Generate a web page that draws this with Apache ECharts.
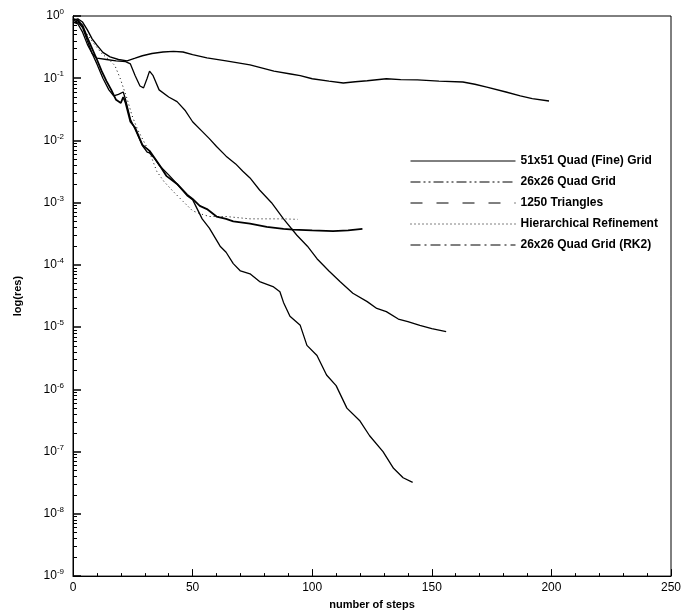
<!DOCTYPE html>
<html>
<head>
<meta charset="utf-8">
<script src="https://cdn.jsdelivr.net/npm/echarts@6/dist/echarts.min.js"></script>
<style>
  html, body { margin: 0; padding: 0; background: #fff; }
  #main { width: 698px; height: 615px; }
</style>
</head>
<body>
<div id="main"></div>
<script>
// series names (legend order)
var names = ['51x51 Quad (Fine) Grid', '26x26 Quad Grid', '1250 Triangles', 'Hierarchical Refinement', '26x26 Quad Grid (RK2)'];

// 51x51 fine grid - stalls around 0.05
var stepsFine = [0, 2, 4, 6, 8, 10, 12.5, 15.5, 19, 22.6, 26, 29, 33, 37.6, 42, 46, 50, 56, 64, 74, 84, 91, 95, 100, 107, 113, 118, 123, 131, 137, 144, 153, 163, 168, 173, 181, 187, 192, 199];
var resFine = [0.85, 0.9, 0.8, 0.6, 0.43, 0.34, 0.26, 0.22, 0.2, 0.19, 0.21, 0.23, 0.25, 0.264, 0.27, 0.264, 0.24, 0.212, 0.19, 0.164, 0.13, 0.117, 0.11, 0.098, 0.09, 0.084, 0.088, 0.091, 0.098, 0.095, 0.094, 0.09, 0.087, 0.08, 0.072, 0.06, 0.052, 0.047, 0.043];

// 26x26 quad grid - fastest, down to ~3e-8
var stepsQuad = [0, 2, 4, 6, 8, 10, 12.5, 15, 17, 19, 21, 22, 24, 26, 29, 31, 32, 34, 36, 40, 43.5, 47.7, 50, 54, 57, 61.5, 64, 67, 70, 74, 78, 83.6, 86.5, 88, 90.7, 95, 97.8, 102, 106, 110, 114.5, 120, 124, 129.6, 134, 138, 142];
var resQuad = [0.8, 0.75, 0.55, 0.35, 0.25, 0.17, 0.1, 0.065, 0.052, 0.055, 0.06, 0.045, 0.022, 0.015, 0.0083, 0.0065, 0.0063, 0.0052, 0.004, 0.0028, 0.002, 0.0013, 0.00112, 0.00055, 0.00039, 0.0002, 0.00016, 0.000105, 0.00008, 0.000072, 0.000054, 0.000045, 0.000037, 0.000025, 0.000015, 0.0000107, 0.0000051, 0.0000035, 0.0000017, 0.00000115, 0.0000005, 0.00000031, 0.00000018, 0.0000001, 0.000000054, 0.000000038, 0.000000032];

// 1250 triangles - ends near 8e-6
var stepsTri = [0, 2, 4, 6, 8, 10, 14, 18, 22, 24, 26, 28, 29.5, 31, 32, 33.5, 36, 40, 43.5, 47, 50, 54, 57, 60, 64, 68, 71, 74, 78, 83, 88, 93.6, 98, 102, 107, 111.6, 117, 123, 127, 131, 136, 140, 145, 150, 156];
var resTri = [0.85, 0.8, 0.65, 0.4, 0.25, 0.21, 0.2, 0.19, 0.185, 0.17, 0.11, 0.075, 0.07, 0.1, 0.13, 0.11, 0.065, 0.05, 0.042, 0.03, 0.02, 0.014, 0.0107, 0.008, 0.0056, 0.0042, 0.0032, 0.0025, 0.0016, 0.001, 0.00055, 0.0003, 0.0002, 0.000126, 0.00008, 0.000054, 0.000035, 0.0000257, 0.00002, 0.0000178, 0.0000135, 0.0000123, 0.0000107, 0.0000095, 0.0000085];

// hierarchical refinement - flattens near 5e-4
var stepsHier = [0, 3, 6, 9, 12, 15, 17.5, 19.7, 22.6, 24.7, 27, 30, 32, 35, 38, 42, 46, 50, 54, 57, 64, 74, 82, 88, 94];
var resHier = [0.85, 0.75, 0.5, 0.35, 0.25, 0.2, 0.16, 0.1, 0.047, 0.025, 0.015, 0.009, 0.0065, 0.0032, 0.0022, 0.0015, 0.00105, 0.00074, 0.00065, 0.0006, 0.0006, 0.00055, 0.00055, 0.00055, 0.00054];

// 26x26 RK2 - flattens near 3.5e-4
var stepsRK2 = [0, 2, 4, 6, 8, 10, 12, 14, 16, 18, 20, 21, 22, 24, 26, 29, 32, 36, 39, 43.5, 47.7, 50, 53, 56, 60, 64, 67, 74, 81, 88, 92, 100, 108.7, 115, 121];
var resRK2 = [0.9, 0.85, 0.7, 0.45, 0.3, 0.2, 0.13, 0.09, 0.065, 0.045, 0.04, 0.05, 0.04, 0.02, 0.016, 0.0085, 0.0068, 0.0041, 0.0027, 0.002, 0.00135, 0.00115, 0.00089, 0.00079, 0.0006, 0.00055, 0.0005, 0.00046, 0.00041, 0.00038, 0.00037, 0.00036, 0.00035, 0.00036, 0.00038];

// dash patterns shown in the legend
var legendDash = ['solid', [10, 3, 2, 3, 2, 3], [12, 14], [1, 3], [10, 4, 2, 4]];

function pairs(xs, ys) {
  return xs.map(function (x, i) { return [x, ys[i]]; });
}

var seriesData = [
  pairs(stepsFine, resFine),
  pairs(stepsQuad, resQuad),
  pairs(stepsTri, resTri),
  pairs(stepsHier, resHier),
  pairs(stepsRK2, resRK2)
];
var curveDash = ['solid', 'solid', 'solid', [1, 3], 'solid'];
var curveWidth = [1.4, 1.3, 1.3, 1, 1.8];

// minor ticks for the log axis: 2..9 in every decade
var minorLogTicks = [];
for (var k = -9; k < 0; k++) {
  for (var m = 2; m <= 9; m++) {
    minorLogTicks.push(m * Math.pow(10, k));
  }
}

var chart = echarts.init(document.getElementById('main'));

var option = {
  backgroundColor: '#fff',
  animation: false,
  grid: {
    left: 73, right: 27, top: 16, bottom: 37,
    show: true, borderColor: '#000', borderWidth: 1
  },
  legend: {
    orient: 'vertical',
    left: 405,
    top: 150,
    itemWidth: 105,
    itemHeight: 14,
    itemGap: 9,
    textStyle: { fontFamily: 'Liberation Sans', fontSize: 12, fontWeight: 'bold', color: '#000' },
    data: names.map(function (n, i) {
      return {
        name: n,
        itemStyle: { color: 'rgba(0,0,0,0)', borderWidth: 0, opacity: 0 },
        lineStyle: { type: legendDash[i], width: 1, color: '#000' }
      };
    })
  },
  xAxis: {
    type: 'value',
    min: 0, max: 250, interval: 50,
    name: 'number of steps',
    nameLocation: 'middle',
    nameGap: 20,
    nameTextStyle: { fontFamily: 'Liberation Sans', fontSize: 11, fontWeight: 'bold', color: '#000' },
    axisLine: { show: true, lineStyle: { color: '#000' } },
    axisTick: { show: true, inside: true, length: 7, lineStyle: { color: '#000' } },
    minorTick: { show: true, splitNumber: 5, length: 3, lineStyle: { color: '#000' } },
    axisLabel: { fontFamily: 'Liberation Sans', fontSize: 12, color: '#000', margin: 6 },
    splitLine: { show: false }
  },
  yAxis: [{
    type: 'log',
    logBase: 10,
    min: 1e-9, max: 1,
    name: 'log(res)',
    nameLocation: 'middle',
    nameGap: 50,
    nameRotate: 90,
    nameTextStyle: { fontFamily: 'Liberation Sans', fontSize: 11, fontWeight: 'bold', color: '#000' },
    axisLine: { show: true, lineStyle: { color: '#000' } },
    axisTick: { show: true, inside: true, length: 8, lineStyle: { color: '#000', width: 1.5 } },
    minorTick: { show: true, splitNumber: 9, length: 4, lineStyle: { color: '#000' } },
    splitLine: { show: false },
    axisLabel: {
      margin: 9,
      formatter: function (v) {
        var e = Math.round(Math.log10(v));
        return '{b|10}{s|' + e + '}';
      },
      rich: {
        b: { fontFamily: 'Liberation Sans', fontSize: 12, color: '#000' },
        s: { fontFamily: 'Liberation Sans', fontSize: 8, color: '#000', verticalAlign: 'bottom', padding: [0, 0, 8, 0] }
      }
    }
  }, {
    // second log axis only for the small in-between ticks
    type: 'log',
    logBase: 10,
    min: 1e-9, max: 1,
    position: 'left',
    offset: 0,
    axisLine: { show: true, lineStyle: { color: '#000' } },
    axisLabel: { show: false },
    splitLine: { show: false },
    axisTick: { show: true, inside: true, length: 4, customValues: minorLogTicks, lineStyle: { color: '#000', width: 1 } }
  }],
  series: names.map(function (n, i) {
    return {
      name: n,
      type: 'line',
      symbol: 'none',
      smooth: false,
      data: seriesData[i],
      lineStyle: { color: '#000', width: curveWidth[i], type: curveDash[i] },
      itemStyle: { color: '#000' }
    };
  })
};

chart.setOption(option);
</script>
</body>
</html>
